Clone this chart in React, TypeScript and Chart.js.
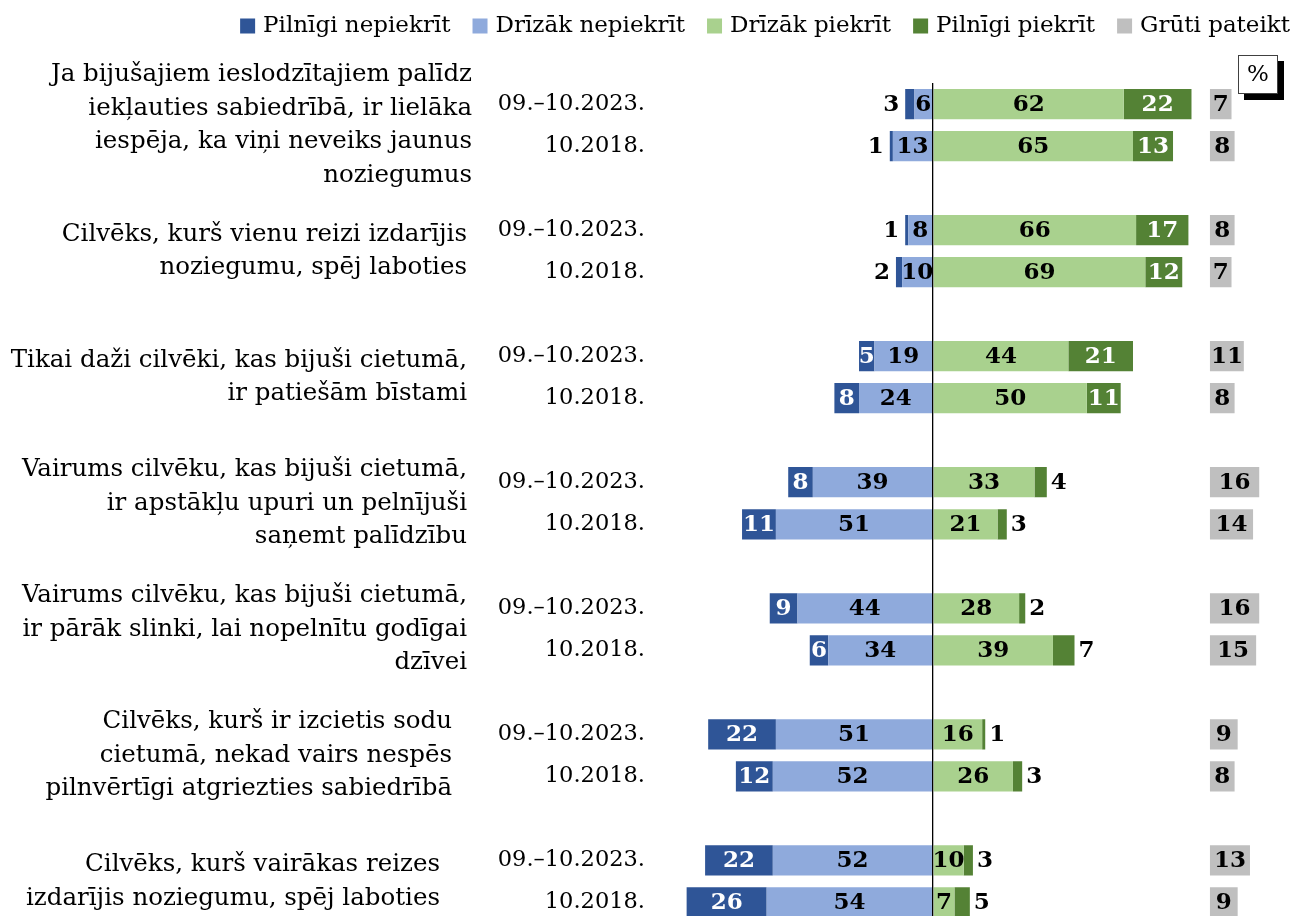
import React, { useEffect, useRef } from 'react';
import { Chart, registerables } from 'chart.js';

Chart.register(...registerables);

// ---------- data ----------
const statements: string[][] = [
  ['Ja bijušajiem ieslodzītajiem palīdz', 'iekļauties sabiedrībā, ir lielāka', 'iespēja, ka viņi neveiks jaunus', 'noziegumus'],
  ['Cilvēks, kurš vienu reizi izdarījis', 'noziegumu, spēj laboties'],
  ['Tikai daži cilvēki, kas bijuši cietumā,', 'ir patiešām bīstami'],
  ['Vairums cilvēku, kas bijuši cietumā,', 'ir apstākļu upuri un pelnījuši', 'saņemt palīdzību'],
  ['Vairums cilvēku, kas bijuši cietumā,', 'ir pārāk slinki, lai nopelnītu godīgai', 'dzīvei'],
  ['Cilvēks, kurš ir izcietis sodu', 'cietumā, nekad vairs nespēs', 'pilnvērtīgi atgriezties sabiedrībā'],
  ['Cilvēks, kurš vairākas reizes', 'izdarījis noziegumu, spēj laboties'],
];
const periods = ['09.–10.2023.', '10.2018.'];

const seriesNames = ['Pilnīgi nepiekrīt', 'Drīzāk nepiekrīt', 'Drīzāk piekrīt', 'Pilnīgi piekrīt', 'Grūti pateikt'];

const fullyDisagree2023 = [3, 1, 5, 8, 9, 22, 22];
const fullyDisagree2018 = [1, 2, 8, 11, 6, 12, 26];
const ratherDisagree2023 = [6, 8, 19, 39, 44, 51, 52];
const ratherDisagree2018 = [13, 10, 24, 51, 34, 52, 54];
const ratherAgree2023 = [62, 66, 44, 33, 28, 16, 10];
const ratherAgree2018 = [65, 69, 50, 21, 39, 26, 7];
const fullyAgree2023 = [22, 17, 21, 4, 2, 1, 3];
const fullyAgree2018 = [13, 12, 11, 3, 7, 3, 5];
const hardToSay2023 = [7, 8, 11, 16, 16, 9, 13];
const hardToSay2018 = [8, 7, 8, 14, 15, 8, 9];

// offset (in axis units) where the "Grūti pateikt" column starts
const HARD_TO_SAY_START = 90;

// ---------- layout / styles ----------
const statementRightEdge = [472, 467, 467, 467, 467, 452, 440];
const COLORS = {
  pn: '#2F5597',
  dn: '#8FAADC',
  dp: '#A9D18E',
  pp: '#548235',
  gp: '#BFBFBF',
};
const FONT = '"DejaVu Serif", "Liberation Serif", serif';

// ---------- helpers ----------
const categories: string[] = [];
statements.forEach((_, i) => {
  categories.push(periods[0], periods[1]);
  if (i < statements.length - 1) categories.push('');
});

function slots(a: number[], b: number[], f: (v: number) => any) {
  const out: any[] = [];
  a.forEach((v, i) => {
    out.push(f(v), f(b[i]));
    if (i < a.length - 1) out.push(null);
  });
  return out;
}

const legendOrder = ['pn', 'dn', 'dp', 'pp', 'gp'];

const valueLabelsPlugin = {
  id: 'valueLabels',
  afterDatasetsDraw(chart: any) {
    const ctx = chart.ctx;
    ctx.save();
    ctx.font = `bold 23px ${FONT}`;
    ctx.textBaseline = 'middle';
    chart.data.datasets.forEach((ds: any, di: number) => {
      const meta = chart.getDatasetMeta(di);
      meta.data.forEach((el: any, i: number) => {
        const raw = ds.data[i];
        if (raw == null) return;
        const v = Array.isArray(raw) ? raw[1] - raw[0] : Math.abs(raw);
        const p = el.getProps(['x', 'base', 'y'], true);
        const left = Math.min(p.x, p.base);
        const right = Math.max(p.x, p.base);
        const mid = (left + right) / 2;
        const text = String(v);
        let tx = mid;
        let align = 'center';
        let color = '#000';
        if (ds.kind === 'pn') {
          if (v < 5) { tx = left - 6; align = 'right'; }
          else color = '#fff';
        } else if (ds.kind === 'pp') {
          if (v < 10) { tx = right + 4; align = 'left'; }
          else color = '#fff';
        }
        ctx.textAlign = align;
        ctx.fillStyle = color;
        ctx.fillText(text, tx, p.y + 1);
      });
    });
    ctx.restore();
  },
};

const decorPlugin = {
  id: 'decor',
  afterDraw(chart: any) {
    const ctx = chart.ctx;
    const yScale = chart.scales.y;
    ctx.save();

    // statement labels
    ctx.font = `24.5px ${FONT}`;
    ctx.fillStyle = '#000';
    ctx.textAlign = 'right';
    ctx.textBaseline = 'middle';
    const lineH = 33.5;
    statements.forEach((lines, g) => {
      const y0 = yScale.getPixelForValue(g * 3);
      const y1 = yScale.getPixelForValue(g * 3 + 1);
      const cy = (y0 + y1) / 2;
      const top = cy - ((lines.length - 1) * lineH) / 2;
      lines.forEach((ln, k) => ctx.fillText(ln, statementRightEdge[g], top + k * lineH));
    });

    // legend
    ctx.font = `23px ${FONT}`;
    const box = 15;
    const boxGap = 8;
    const itemGap = 22;
    const items = legendOrder.map((k) => {
      const ds = chart.data.datasets.find((d: any) => d.kind === k);
      return { label: ds.label, color: ds.backgroundColor, w: ctx.measureText(ds.label).width };
    });
    const total = items.reduce((s, it) => s + box + boxGap + it.w, 0) + itemGap * (items.length - 1);
    let lx = 1290 - total;
    const ly = 26;
    ctx.textAlign = 'left';
    items.forEach((it) => {
      ctx.fillStyle = it.color;
      ctx.fillRect(lx, ly - box / 2, box, box);
      ctx.fillStyle = '#000';
      ctx.fillText(it.label, lx + box + boxGap, ly);
      lx += box + boxGap + it.w + itemGap;
    });

    // % box with shadow
    const bx = 1238, by = 55, bw = 40, bh = 39;
    ctx.fillStyle = '#000';
    ctx.fillRect(bx + 6, by + 6, bw, bh);
    ctx.fillStyle = '#fff';
    ctx.fillRect(bx, by, bw, bh);
    ctx.strokeStyle = '#404040';
    ctx.lineWidth = 1;
    ctx.strokeRect(bx + 0.5, by + 0.5, bw - 1, bh - 1);
    ctx.fillStyle = '#000';
    ctx.textAlign = 'center';
    ctx.font = `23px ${FONT}`;
    ctx.fillText('%', bx + bw / 2, by + bh / 2 + 1);

    ctx.restore();
  },
};

export default function App() {
  const ref = useRef<HTMLCanvasElement | null>(null);

  useEffect(() => {
    if (!ref.current) return;
    const chart = new Chart(ref.current, {
      type: 'bar',
      data: {
        labels: categories,
        datasets: [
          {
            kind: 'dn',
            label: seriesNames[1],
            data: slots(ratherDisagree2023, ratherDisagree2018, (v) => -v),
            backgroundColor: COLORS.dn,
            stack: 'main',
          } as any,
          {
            kind: 'pn',
            label: seriesNames[0],
            data: slots(fullyDisagree2023, fullyDisagree2018, (v) => -v),
            backgroundColor: COLORS.pn,
            stack: 'main',
          } as any,
          {
            kind: 'dp',
            label: seriesNames[2],
            data: slots(ratherAgree2023, ratherAgree2018, (v) => v),
            backgroundColor: COLORS.dp,
            stack: 'main',
          } as any,
          {
            kind: 'pp',
            label: seriesNames[3],
            data: slots(fullyAgree2023, fullyAgree2018, (v) => v),
            backgroundColor: COLORS.pp,
            stack: 'main',
          } as any,
          {
            kind: 'gp',
            label: seriesNames[4],
            data: slots(hardToSay2023, hardToSay2018, (v) => [HARD_TO_SAY_START, HARD_TO_SAY_START + v]),
            backgroundColor: COLORS.gp,
            stack: 'hard',
            grouped: false,
          } as any,
        ],
      },
      options: {
        indexAxis: 'y',
        responsive: false,
        animation: false,
        devicePixelRatio: 1,
        layout: { padding: { top: 83, right: 3, bottom: 0, left: 0 } },
        plugins: {
          legend: { display: false },
          tooltip: { enabled: false },
        },
        scales: {
          x: {
            type: 'linear',
            min: -88,
            max: 116,
            stacked: true,
            ticks: { display: false },
            border: { display: false },
            grid: { color: '#000', lineWidth: 1.3, drawTicks: false, z: 1 },
            afterBuildTicks: (s: any) => { s.ticks = [{ value: 0 }]; },
            afterFit: (s: any) => { s.height = 0; },
          },
          y: {
            type: 'category',
            stacked: true,
            grid: { display: false },
            border: { display: false },
            ticks: {
              autoSkip: false,
              color: '#000',
              padding: 9,
              font: { family: FONT, size: 22.5 },
            },
            afterFit: (s: any) => { s.width = 662; },
          },
        },
      } as any,
      plugins: [valueLabelsPlugin, decorPlugin],
    });
    return () => chart.destroy();
  }, []);

  return (
    <div style={{ position: 'absolute', left: 0, top: 0, width: 1293, height: 916, overflow: 'hidden', background: '#fff' }}>
      <canvas ref={ref} width={1293} height={946} style={{ display: 'block' }} />
    </div>
  );
}
